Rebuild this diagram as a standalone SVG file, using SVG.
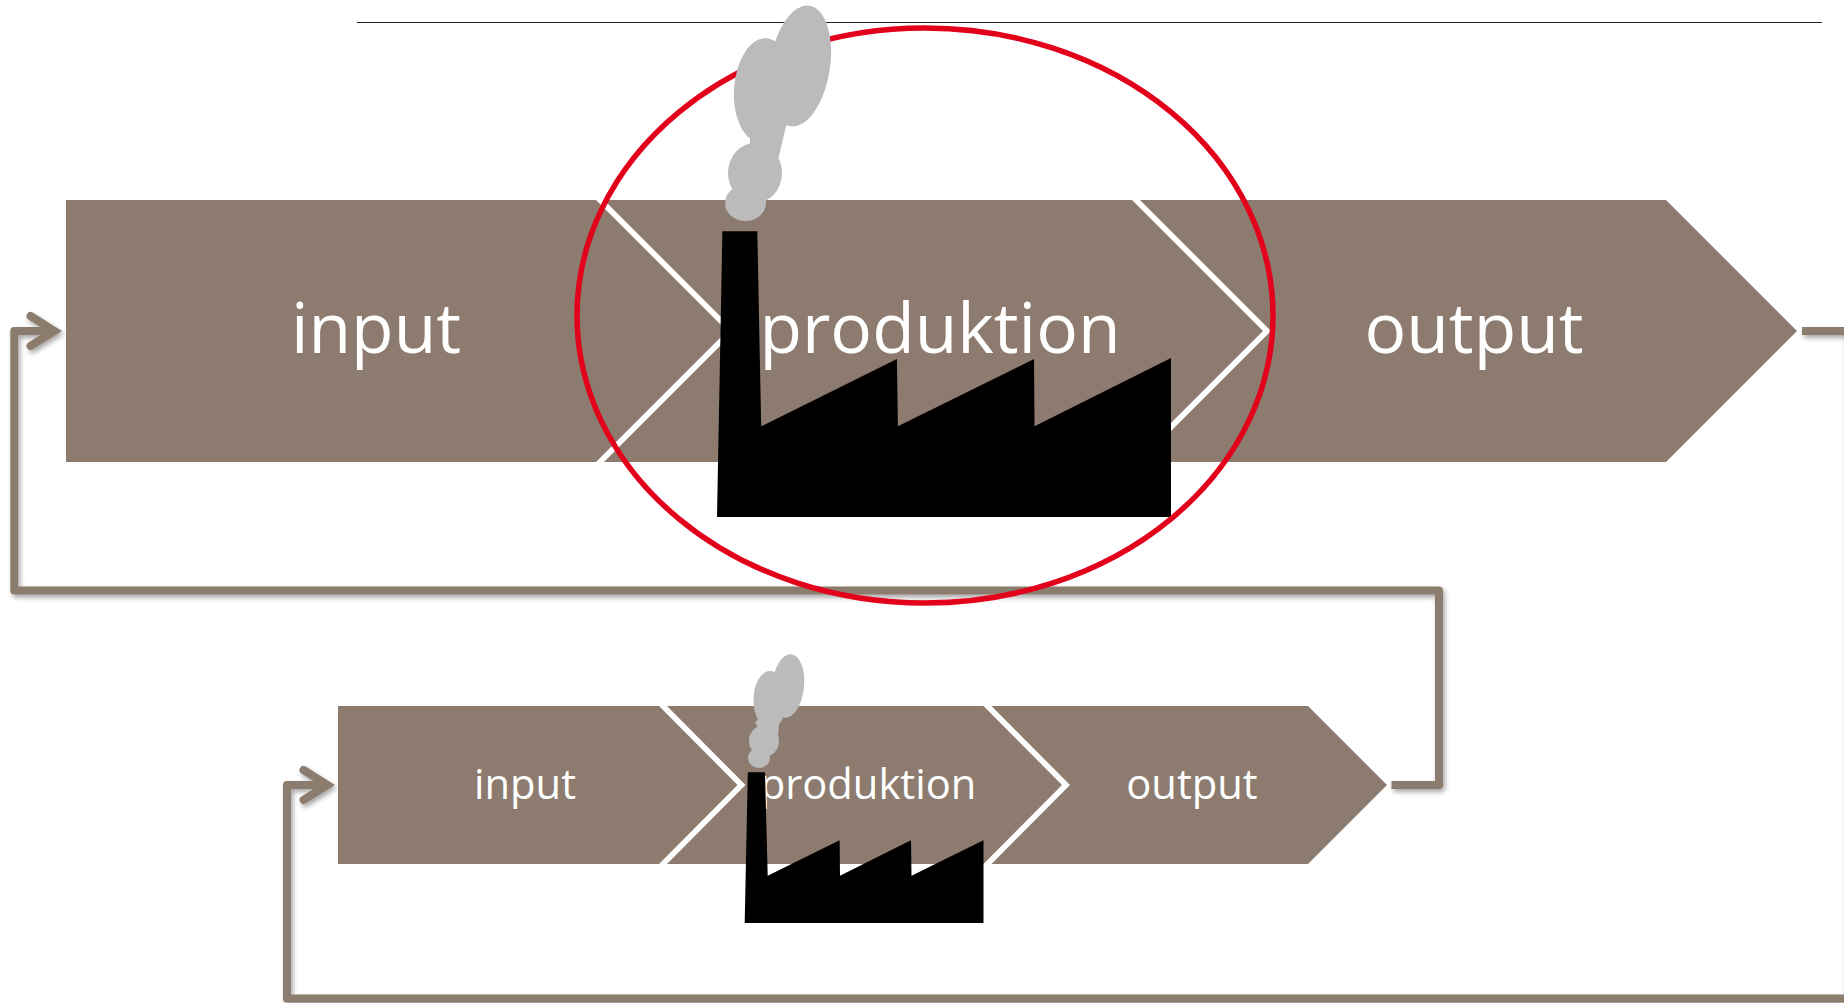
<svg xmlns="http://www.w3.org/2000/svg" width="1844" height="1003" viewBox="0 0 1844 1003">
<style>
.band{fill:#8c7b6e}
.t{fill:#fff;font-family:"Open Sans","Noto Sans",sans-serif;text-anchor:middle}
.lg{font-size:69.500px}
.sm{font-size:41.700px}
.conn{fill:none;stroke:#8c7b6e;stroke-width:8;stroke-linejoin:round}
.smoke{fill:#bbb}
.fac{fill:#000}
</style>
<defs>
<filter id="sh" filterUnits="userSpaceOnUse" x="0" y="0" width="1860" height="1020"><feDropShadow dx="2" dy="3" stdDeviation="2.500" flood-color="#000" flood-opacity="0.35"/></filter>
<marker id="arr" markerUnits="userSpaceOnUse" markerWidth="50" markerHeight="50" refX="35" refY="25" orient="auto" overflow="visible"><path d="M11,10 L35,25 L11,40" fill="none" stroke="#8c7b6e" stroke-width="8" stroke-linecap="round" stroke-linejoin="miter"/></marker>
</defs>
<rect width="1844" height="1003" fill="#fff"/>
<line id="top-rule" x1="357" y1="22.500" x2="1822" y2="22.500" stroke="#222" stroke-width="1"/>
<g id="main-input"><polygon class="band" points="66,200 596,200 727,331 596,462 66,462"/><text class="t lg" x="376" y="353">input</text></g>
<g id="main-produktion"><polygon class="band" points="604,200 1132,200 1263,331 1132,462 604,462 735,331"/><text class="t lg" x="940" y="353">produktion</text></g>
<g id="main-output"><polygon class="band" points="1140,200 1666,200 1797,331 1666,462 1140,462 1271,331"/><text class="t lg" x="1474" y="353">output</text></g>
<g id="small-input"><polygon class="band" points="338,706 659,706 737.500,785 659,864 338,864"/><text class="t sm" x="525" y="799">input</text></g>
<g id="small-produktion"><polygon class="band" points="667,706 983.500,706 1062,785 983.500,864 667,864 745.500,785"/><text class="t sm" x="868" y="799">produktion</text></g>
<g id="small-output"><polygon class="band" points="991.500,706 1308,706 1387,785 1308,864 991.500,864 1070,785"/><text class="t sm" x="1192" y="799">output</text></g>
<g id="connectors" filter="url(#sh)">
<path class="conn" d="M1802,331 H1848 V998.500 H287 V785 H327.500" marker-end="url(#arr)"/>
<path class="conn" d="M1391.500,785 H1439 V590.500 H14.300 V331 H54.500" marker-end="url(#arr)"/>
</g>
<g id="main-factory"><polygon class="fac" points="722.400,231.300 757.300,231.300 761.200,426.300 896.900,359 897.900,426.300 1034,359 1034.500,426.300 1171,358 1171,517 717,517"/></g>
<g id="small-factory"><polygon class="fac" points="747.800,772.300 765,772.300 767.700,875.700 839.600,840.300 840,875.700 911,840.300 911.500,875.700 983.500,840.300 983.500,923 744.700,923"/></g>
<ellipse id="focus-ring" cx="925" cy="315.500" rx="348" ry="287.500" fill="none" stroke="#e2001a" stroke-width="5.500"/>
<g id="main-smoke" class="smoke">
<ellipse cx="745.500" cy="203" rx="20.500" ry="18"/>
<ellipse cx="755" cy="173" rx="27" ry="30"/>
<path d="M750,135 L788,118 L778,160 L768,185 L750,160 Z"/>
<ellipse cx="763" cy="90" rx="29" ry="52" transform="rotate(4 763 90)"/>
<ellipse cx="800" cy="66" rx="30" ry="61" transform="rotate(9 800 66)"/>
</g>
<g id="small-smoke" class="smoke">
<ellipse cx="759" cy="758" rx="11" ry="10"/>
<ellipse cx="764" cy="741" rx="15" ry="16"/>
<path d="M755,722 L781,705 L778,735 L770,752 Z"/>
<ellipse cx="770" cy="700" rx="16.500" ry="29"/>
<ellipse cx="788" cy="686" rx="16" ry="32" transform="rotate(6 788 686)"/>
</g>
</svg>
